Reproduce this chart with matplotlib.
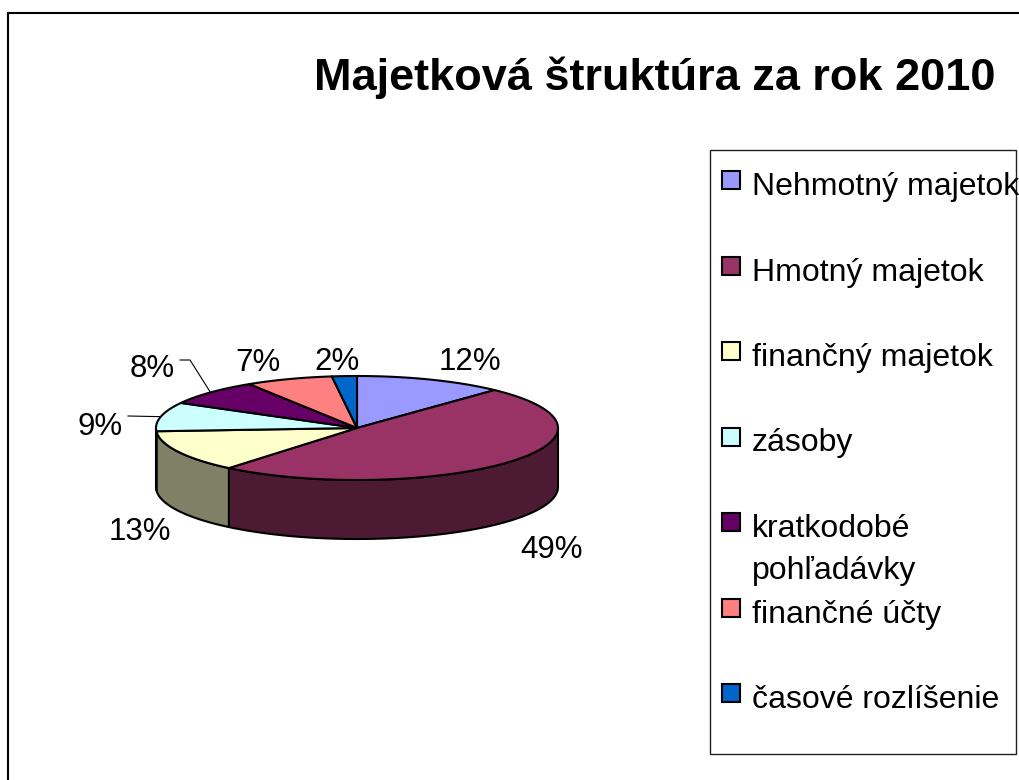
import numpy as np
import matplotlib
matplotlib.use("Agg")
import matplotlib.pyplot as plt
from matplotlib.patches import Polygon, Rectangle
from matplotlib.colors import to_rgb

# ---- data ----
categories = ["Nehmotný majetok", "Hmotný majetok", "finančný majetok", "zásoby",
              "kratkodobé\npohľadávky", "finančné účty", "časové rozlíšenie"]
values = [12, 49, 13, 9, 8, 7, 2]
title = "Majetková štruktúra za rok 2010"

# ---- styles / layout ----
colors = ["#9999FF", "#993366", "#FFFFCC", "#CCFFFF", "#660066", "#FF8080", "#0066CC"]
FONT = "Liberation Sans"
W, H = 1019, 780
cx, cy, rx, ry, depth = 357, 428, 201, 52, 59
label_xy = [(470, 362), (552, 550), (140, 532), (100, 427), (152, 369), (258, 363), (337, 362)]
leader_start = {3: [(128, 416)], 4: [(180, 360), (190, 360)]}

fig = plt.figure(figsize=(W / 100, H / 100), dpi=100)
ax = fig.add_axes([0, 0, 1, 1])
ax.set_xlim(0, W)
ax.set_ylim(H, 0)
ax.axis("off")

# outer chart border (left and top)
ax.plot([8, 8, W], [H, 13, 13], color="black", lw=1.5, solid_joinstyle="miter")

vals = np.asarray(values, dtype=float)
cum = np.concatenate([[0], np.cumsum(vals)]) / vals.sum() * 360.0


def pt(theta, dy=0.0):
    t = np.radians(theta)
    return cx + rx * np.sin(t), cy - ry * np.cos(t) + dy


# side walls (front half only: 90..270 deg clockwise from top)
for i in range(len(vals)):
    lo, hi = max(cum[i], 90), min(cum[i + 1], 270)
    if lo < hi:
        t = np.linspace(lo, hi, 200)
        xt, yt = pt(t)
        xb, yb = pt(t, depth)
        xs = np.concatenate([xt, xb[::-1]])
        ys = np.concatenate([yt, yb[::-1]])
        side = tuple(c * 0.5 for c in to_rgb(colors[i]))
        ax.add_patch(Polygon(np.column_stack([xs, ys]), closed=True, facecolor=side,
                             edgecolor="black", lw=1.5, joinstyle="round"))

# top faces
for i in range(len(vals)):
    t = np.linspace(cum[i], cum[i + 1], 200)
    xt, yt = pt(t)
    xs = np.concatenate([[cx], xt])
    ys = np.concatenate([[cy], yt])
    ax.add_patch(Polygon(np.column_stack([xs, ys]), closed=True, facecolor=colors[i],
                         edgecolor="black", lw=1.5, joinstyle="round"))

# percentage labels
pct = vals / vals.sum() * 100
for i, (x, y) in enumerate(label_xy):
    ax.text(x, y, f"{pct[i]:.0f}%", fontsize=22.5, family=FONT, ha="center", va="center")

# leader lines
for i, pts in leader_start.items():
    mid = (cum[i] + cum[i + 1]) / 2
    ex, ey = pt(mid)
    xs = [p[0] for p in pts] + [ex]
    ys = [p[1] for p in pts] + [ey]
    ax.plot(xs, ys, color="black", lw=0.8)

# title
ax.text(655, 78, title, fontsize=32.5, fontweight="bold", family=FONT, ha="center", va="center")

# legend
ax.add_patch(Rectangle((710, 150), 306, 604, facecolor="white", edgecolor="#222222", lw=1.0))
y0, step, line_h = 187, 85.5, 42
for i, lab in enumerate(categories):
    yc = y0 + i * step
    ax.add_patch(Rectangle((722, yc - 16), 18, 18, facecolor=colors[i], edgecolor="black", lw=1.5))
    for k, line in enumerate(lab.split("\n")):
        ax.text(752, yc + k * line_h, line, fontsize=23, family=FONT, ha="left", va="center")

fig.savefig("out.png", dpi=100)
